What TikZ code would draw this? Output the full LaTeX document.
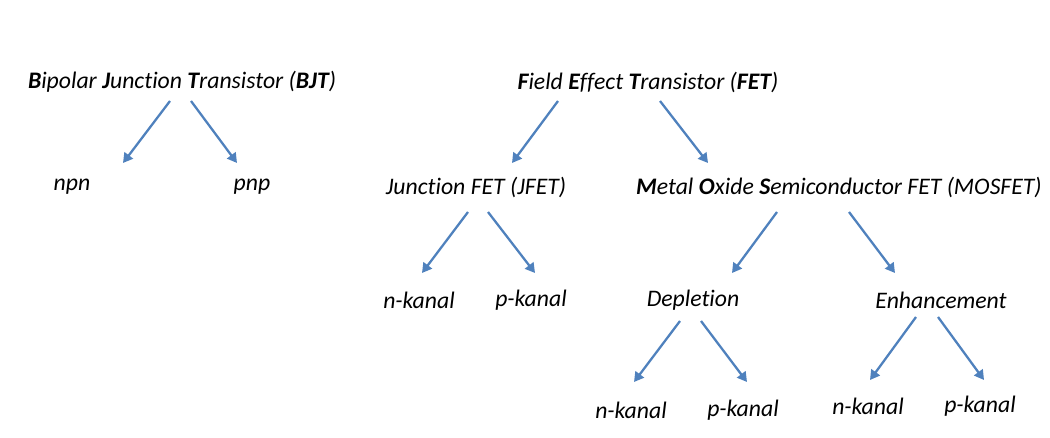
\documentclass[tikz,border=0pt]{standalone}
\usepackage{fontspec}
\setmainfont{Carlito}[RawFeature={-liga;-clig;-calt;-dlig}]
\usetikzlibrary{arrows.meta,calc}
\definecolor{arrowblue}{RGB}{79,129,189}

\begin{document}
\begin{tikzpicture}[x=0.02cm,y=-0.02cm,
  every node/.style={font=\fontsize{13.5}{16}\selectfont\itshape, inner sep=0pt},
  branch/.style={arrowblue, line width=1.3pt, -{Triangle[width=6pt,length=5.5pt]}}]

  \useasboundingbox (0,0) rectangle (1050,438);

  % top level
  \node (bjt) at (182,82) {\textbf{B}ipolar \textbf{J}unction \textbf{T}ransistor (\textbf{BJT})};
  \node (fet) at (648,82) {\textbf{F}ield \textbf{E}ffect \textbf{T}ransistor (\textbf{FET})};

  % second level
  \node (npn) at (72,187) {npn};
  \node (pnp) at (252,187) {pnp};
  \node (jfet) at (476,187) {Junction FET (JFET)};
  \node (mosfet) at (839,187) {\textbf{M}etal \textbf{O}xide \textbf{S}emiconductor FET (MOSFET)};

  % third level
  \node (jn) at (419,300) {n-kanal};
  \node (jp) at (531,300) {p-kanal};
  \node (depl) at (693,300) {Depletion};
  \node (enh) at (941,300) {Enhancement};

  % fourth level
  \node (dn) at (631,410) {n-kanal};
  \node (dp) at (743,410) {p-kanal};
  \node (en) at (868,406) {n-kanal};
  \node (ep) at (980,406) {p-kanal};

  \draw[branch] ($(bjt)+(-12,19)$) -- ($(npn)+(51,-24)$);
  \draw[branch] ($(bjt)+(9,19)$) -- ($(pnp)+(-15,-24)$);

  \draw[branch] ($(fet)+(-90,19)$) -- ($(jfet)+(36,-24)$);
  \draw[branch] ($(fet)+(12,19)$) -- ($(mosfet)+(-131,-24)$);

  \draw[branch] ($(jfet)+(-8,25)$) -- ($(jn)+(3,-27)$);
  \draw[branch] ($(jfet)+(12,25)$) -- ($(jp)+(4,-27)$);

  \draw[branch] ($(mosfet)+(-62,25)$) -- ($(depl)+(39,-27)$);
  \draw[branch] ($(mosfet)+(10,25)$) -- ($(enh)+(-46,-27)$);

  \draw[branch] ($(depl)+(-13,21)$) -- ($(dn)+(3,-28)$);
  \draw[branch] ($(depl)+(8,21)$) -- ($(dp)+(4,-28)$);

  \draw[branch] ($(enh)+(-25,17)$) -- ($(en)+(2,-26)$);
  \draw[branch] ($(enh)+(-3,17)$) -- ($(ep)+(4,-26)$);
\end{tikzpicture}
\end{document}
